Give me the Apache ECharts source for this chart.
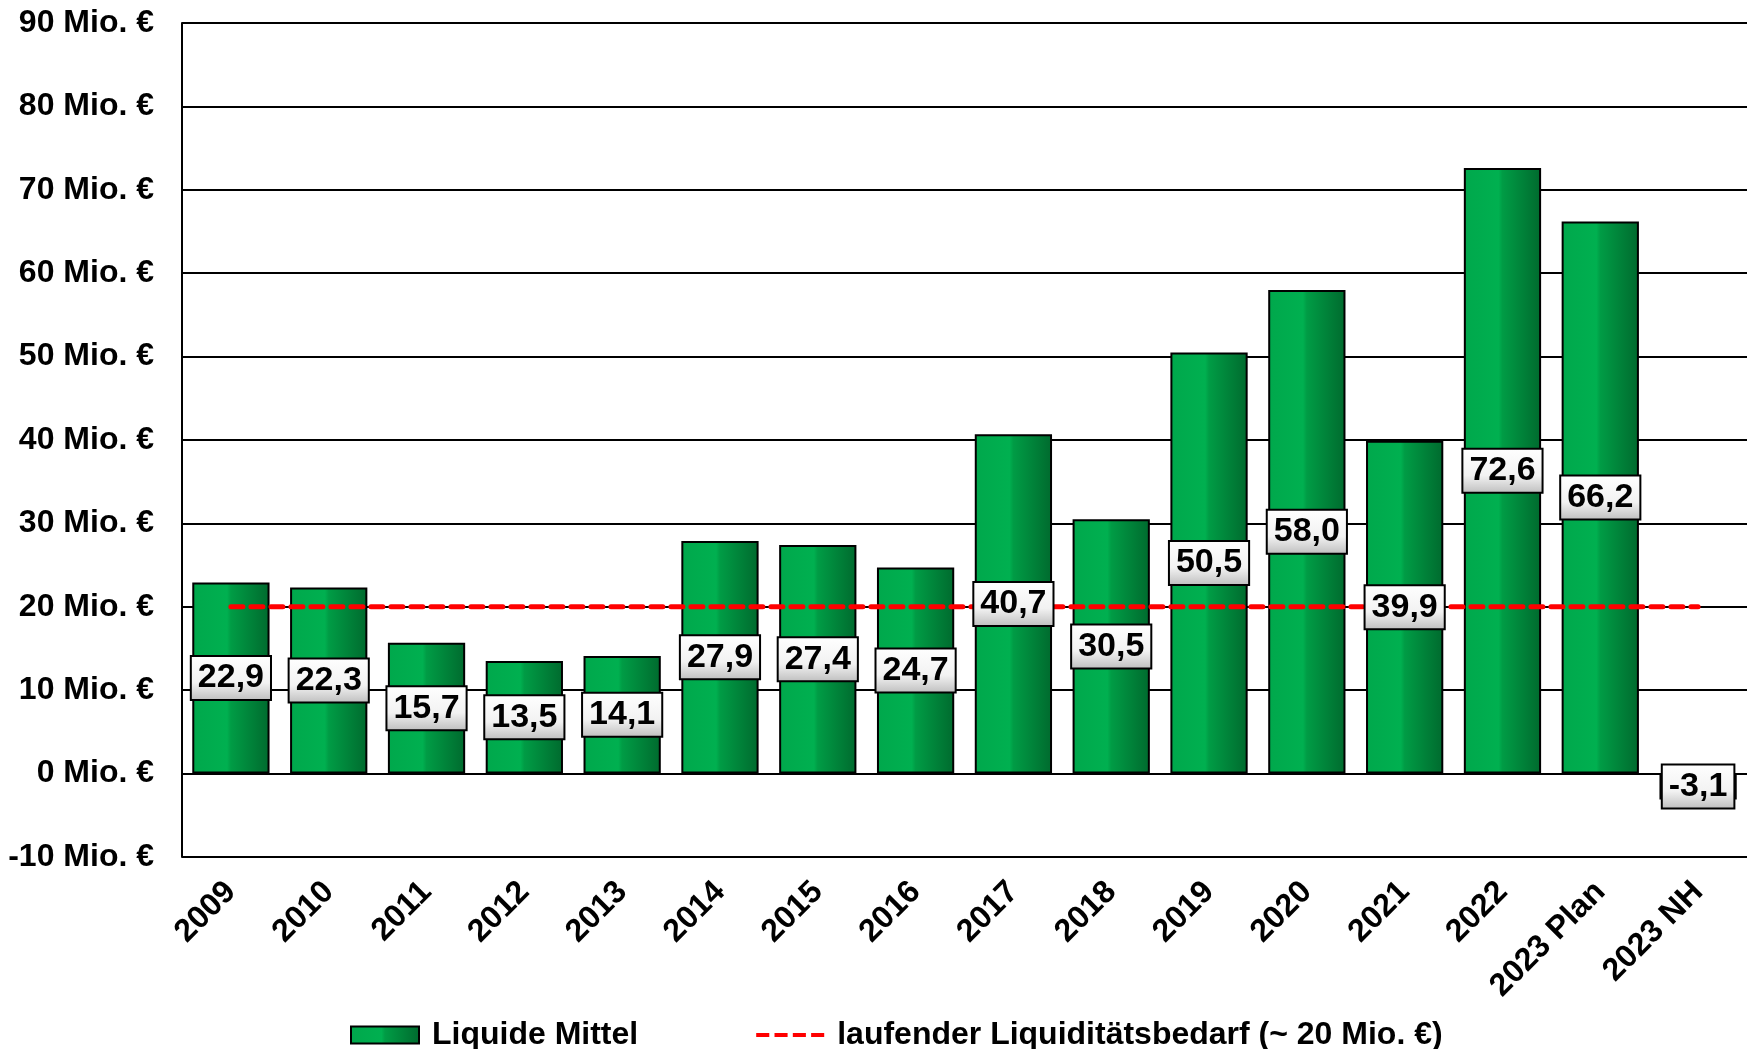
<!DOCTYPE html>
<html><head><meta charset="utf-8">
<script src="https://cdn.jsdelivr.net/npm/echarts@6/dist/echarts.min.js"></script>
<style>html,body{margin:0;padding:0;background:#fff}#c{width:1754px;height:1049px}</style>
</head><body><div id="c"></div>
<script>
const categories = ['2009','2010','2011','2012','2013','2014','2015','2016','2017','2018','2019','2020','2021','2022','2023 Plan','2023 NH'];
const liquideMittel = [22.9,22.3,15.7,13.5,14.1,27.9,27.4,24.7,40.7,30.5,50.5,58.0,39.9,72.6,66.2,-3.1];
const bedarf = [20,20,20,20,20,20,20,20,20,20,20,20,20,20,20,20];
const yTicks = [-10,0,10,20,30,40,50,60,70,80,90];
const seriesNames = ['Liquide Mittel','laufender Liquiditätsbedarf (~ 20 Mio. €)'];

const FONT = '"Liberation Sans", Arial, sans-serif';
const barFill = new echarts.graphic.LinearGradient(0,0,1,0,[
  {offset:0,color:'#00a84c'},{offset:0.45,color:'#00b050'},{offset:0.5,color:'#009c45'},{offset:1,color:'#006a2e'}]);
const chart = echarts.init(document.getElementById('c'));
chart.setOption({
  animation:false,
  textStyle:{fontFamily:FONT},
  grid:{left:182,right:7,top:23,bottom:192},
  legend:{
    data:[
      {name:seriesNames[0], icon:'rect'},
      {name:seriesNames[1], icon:'path://M0,0h10v3h-10z M14,0h10v3h-10z M28,0h10v3h-10z M42,0h10v3h-10z', itemStyle:{color:'#ff0000'}}
    ],
    left:345, top:1014, itemGap:118, itemWidth:68, itemHeight:17,
    textStyle:{fontFamily:FONT,fontSize:32,fontWeight:'bold',color:'#000',padding:[0,0,0,8]}
  },
  xAxis:{
    type:'category', data:categories,
    axisLine:{show:false}, axisTick:{show:false},
    axisLabel:{rotate:45, margin:30, interval:0, fontSize:32, fontWeight:'bold', color:'#000', fontFamily:FONT}
  },
  yAxis:{
    type:'value', min:yTicks[0], max:yTicks[yTicks.length-1], interval:10,
    axisLine:{show:true,lineStyle:{color:'#000',width:2}}, axisTick:{show:false},
    splitLine:{lineStyle:{color:'#000',width:2}},
    axisLabel:{margin:28, fontSize:32, fontWeight:'bold', color:'#000', fontFamily:FONT,
      formatter:v=>v+' Mio. €'}
  },
  series:[
    {name:seriesNames[0], type:'bar', data:liquideMittel, barCategoryGap:'21%', z:2,
      itemStyle:{color:barFill, borderColor:'#000', borderWidth:2}},
    {name:seriesNames[1], type:'line', data:bedarf, z:3, symbol:'none', showSymbol:false,
      lineStyle:{color:'#ff0000', width:5, type:[12,8], cap:'round'}, itemStyle:{color:'#ff0000'}},
    {name:'labels', type:'bar', data:liquideMittel, barGap:'-100%', barCategoryGap:'21%', z:4,
      itemStyle:{color:'rgba(0,0,0,0)'}, legendHoverLink:false,
      label:{show:true, position:'inside', formatter:p=>p.value.toFixed(1).replace('.',','),
        fontSize:34, fontWeight:'bold', color:'#000', fontFamily:FONT,
        backgroundColor:new echarts.graphic.LinearGradient(0,0,0,1,[{offset:0,color:'#ffffff'},{offset:0.6,color:'#f2f2f2'},{offset:1,color:'#bdbdbd'}]),
        borderColor:'#000', borderWidth:2, padding:[5,6,3,6]}}
  ]
});
</script></body></html>
